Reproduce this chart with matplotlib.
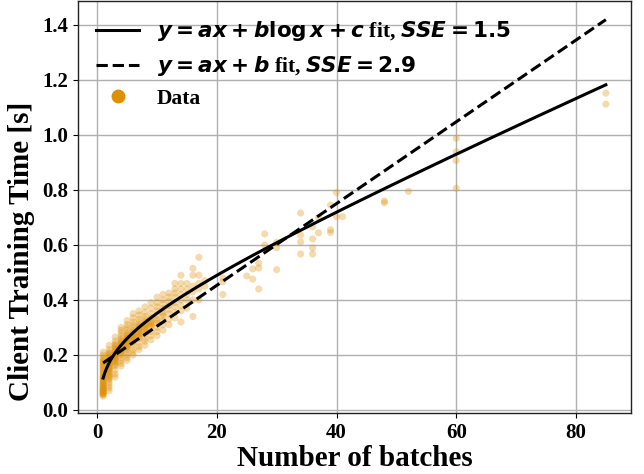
import numpy as np
import matplotlib
matplotlib.use("Agg")
import matplotlib.pyplot as plt
from matplotlib.lines import Line2D

plt.rcParams['font.family'] = ['Liberation Serif', 'DejaVu Serif']
plt.rcParams['font.weight'] = 'bold'
plt.rcParams['axes.labelweight'] = 'bold'
plt.rcParams['mathtext.fontset'] = 'dejavusans'

# Measured data: batches per column and training times (s)
col_batches = [1, 2, 3, 4, 5, 6, 7, 8, 9, 10, 11, 12, 13, 14, 15, 16, 17]
col_times = [
    [0.05, 0.055, 0.06, 0.065, 0.07, 0.075, 0.08, 0.085, 0.09, 0.095, 0.10, 0.105, 0.11,
     0.12, 0.125, 0.13, 0.14, 0.145, 0.15, 0.16, 0.17, 0.18, 0.19, 0.20, 0.21,
     0.062, 0.072, 0.088, 0.112, 0.135, 0.058, 0.068, 0.078, 0.098, 0.118, 0.155,
     0.165, 0.175, 0.185],
    [0.07, 0.08, 0.09, 0.10, 0.11, 0.115, 0.12, 0.13, 0.14, 0.15, 0.155, 0.16, 0.17,
     0.175, 0.18, 0.19, 0.20, 0.21, 0.22, 0.235, 0.125, 0.145, 0.165, 0.135, 0.152,
     0.168, 0.185, 0.195, 0.205],
    [0.12, 0.13, 0.145, 0.16, 0.17, 0.18, 0.185, 0.19, 0.20, 0.205, 0.21, 0.22, 0.23,
     0.24, 0.25, 0.265, 0.175, 0.195, 0.215, 0.165, 0.188, 0.198, 0.225, 0.235],
    [0.16, 0.17, 0.18, 0.19, 0.20, 0.21, 0.215, 0.22, 0.23, 0.235, 0.24, 0.25, 0.26,
     0.27, 0.28, 0.29, 0.30, 0.225, 0.245, 0.205, 0.218, 0.228, 0.238, 0.255],
    [0.18, 0.19, 0.20, 0.21, 0.22, 0.23, 0.24, 0.245, 0.25, 0.26, 0.27, 0.28, 0.29,
     0.30, 0.31, 0.325, 0.255, 0.265, 0.225, 0.235, 0.248, 0.258, 0.275],
    [0.20, 0.21, 0.22, 0.235, 0.25, 0.26, 0.265, 0.27, 0.28, 0.29, 0.30, 0.31, 0.32,
     0.335, 0.35, 0.275, 0.245, 0.255, 0.268, 0.285],
    [0.22, 0.23, 0.245, 0.26, 0.27, 0.28, 0.29, 0.30, 0.31, 0.32, 0.33, 0.345, 0.36,
     0.285, 0.295, 0.265, 0.275, 0.305],
    [0.235, 0.25, 0.26, 0.275, 0.29, 0.30, 0.31, 0.32, 0.33, 0.34, 0.355, 0.375, 0.305,
     0.285, 0.295, 0.315],
    [0.255, 0.27, 0.285, 0.30, 0.31, 0.32, 0.335, 0.35, 0.37, 0.39, 0.315, 0.305, 0.325],
    [0.27, 0.285, 0.30, 0.315, 0.33, 0.345, 0.36, 0.375, 0.39, 0.41, 0.325],
    [0.29, 0.31, 0.325, 0.34, 0.355, 0.37, 0.385, 0.40, 0.42, 0.348],
    [0.31, 0.33, 0.35, 0.365, 0.38, 0.395, 0.41, 0.425],
    [0.335, 0.355, 0.375, 0.39, 0.41, 0.425, 0.44, 0.46],
    [0.32, 0.36, 0.38, 0.40, 0.42, 0.44, 0.46, 0.49],
    [0.37, 0.40, 0.42, 0.44, 0.46],
    [0.34, 0.40, 0.43, 0.45, 0.49, 0.515],
    [0.40, 0.44, 0.46, 0.49, 0.555],
]

sparse_batches = [18, 18, 21, 21, 21, 25, 26, 26, 27, 27, 27, 28, 28, 30, 30, 30,
                  34, 34, 34, 34, 36, 36, 36, 36, 37, 37, 39, 39, 39, 40, 40, 41,
                  48, 48, 52, 60, 60, 60, 60, 85, 85]
sparse_times = [0.47, 0.45, 0.48, 0.466, 0.42, 0.487, 0.513, 0.476, 0.534, 0.516, 0.44,
                0.64, 0.60, 0.61, 0.59, 0.51, 0.716, 0.636, 0.611, 0.567, 0.666, 0.622,
                0.589, 0.567, 0.70, 0.644, 0.745, 0.655, 0.645, 0.79, 0.703, 0.703,
                0.76, 0.753, 0.795, 0.988, 0.939, 0.907, 0.806, 1.152, 1.112]

# fit coefficients
log_a, log_b, log_c = 0.00918, 0.06645, 0.1068
lin_a, lin_b = 0.01486, 0.156

x_data = np.concatenate([[b] * len(t) for b, t in zip(col_batches, col_times)] + [sparse_batches])
y_data = np.concatenate([np.concatenate(col_times), sparse_times])

orange = '#DE8F05'

fig = plt.figure(figsize=(6.44, 4.74), dpi=100)
ax = fig.add_axes([0.1211, 0.1287, 0.8587, 0.8692])

x_fit = np.linspace(1, 85, 300)
ax.plot(x_fit, log_a * x_fit + log_b * np.log(x_fit) + log_c, color='black', lw=2.2, zorder=3)
ax.plot(x_fit, lin_a * x_fit + lin_b, color='black', lw=2.2, ls='--', zorder=3)
ax.scatter(x_data, y_data, s=26, color=orange, alpha=0.33, edgecolors='none', zorder=2)

ax.set_xlim(-3.2, 89.2)
ax.set_ylim(-0.011, 1.487)
ax.set_xticks([0, 20, 40, 60, 80])
ax.set_yticks(np.arange(0, 1.41, 0.2))
ax.set_yticklabels(['%.1f' % v for v in np.arange(0, 1.41, 0.2)])
ax.tick_params(labelsize=15)
ax.grid(True, color='#b0b0b0', lw=1.0)
ax.set_axisbelow(True)
for sp in ax.spines.values():
    sp.set_color('#222222')
    sp.set_linewidth(1.0)

ax.set_xlabel('Number of batches', fontsize=21, labelpad=2)
ax.set_ylabel('Client Training Time [s]', fontsize=21)
ax.yaxis.set_label_coords(-0.078, 0.393)

handles = [
    Line2D([], [], color='black', lw=2.2),
    Line2D([], [], color='black', lw=2.2, ls='--'),
    Line2D([], [], color=orange, marker='o', ls='none', markersize=9),
]
labels = [
    r'$\boldsymbol{y = ax + b\log x + c}$ fit, $\boldsymbol{SSE = 1.5}$',
    r'$\boldsymbol{y = ax + b}$ fit, $\boldsymbol{SSE = 2.9}$',
    'Data',
]
ax.legend(handles, labels, loc='upper left', frameon=False, fontsize=15.5,
          borderaxespad=0.45, handlelength=2.0)

fig.savefig('out.png', dpi=100)
